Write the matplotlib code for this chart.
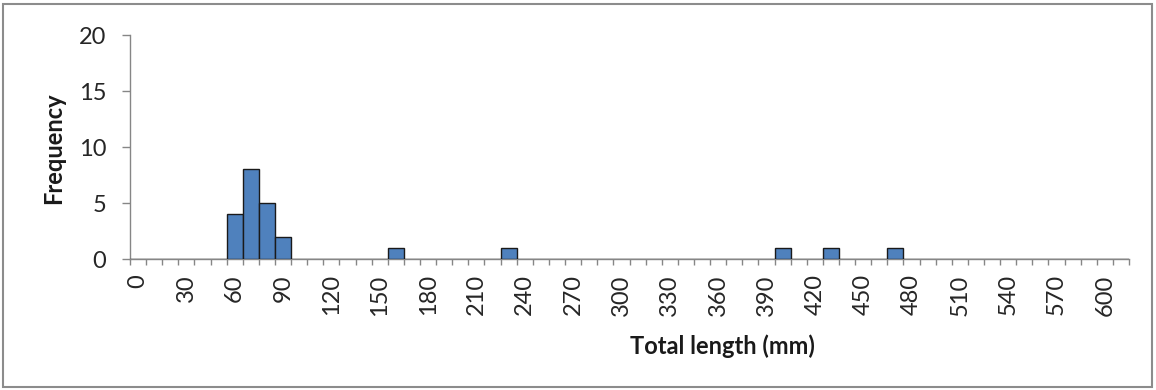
import matplotlib
matplotlib.use("Agg")
import matplotlib.pyplot as plt
from matplotlib.patches import Rectangle
import numpy as np

# Data: histogram of total length (mm), bins of 10 mm from 0 to 600, plus "More"
bin_labels = [str(v) for v in range(0, 601, 10)] + ['More']
counts_by_bin = {'60': 4, '70': 8, '80': 5, '90': 2, '160': 1, '230': 1,
                 '400': 1, '430': 1, '470': 1}
frequencies = [counts_by_bin.get(b, 0) for b in bin_labels]
y_ticks = [0, 5, 10, 15, 20]

plt.rcParams['font.family'] = ['Lato', 'DejaVu Sans']

W, H = 1156, 390
fig = plt.figure(figsize=(W / 100, H / 100), dpi=100)

# outer border
fig.patches.append(Rectangle((3 / W, 3 / H), (W - 7) / W, (H - 7) / H,
                             transform=fig.transFigure, fill=False,
                             edgecolor='#8c8c8c', linewidth=1.5))

left, right, top, bottom = 130, 1129, 35, 259
ax = fig.add_axes([left / W, 1 - bottom / H, (right - left) / W, (bottom - top) / H])

x = np.arange(len(bin_labels))
ax.bar(x, frequencies, width=1.0, color='#4F81BD', edgecolor='#1a1a1a', linewidth=1.0, zorder=3)

ax.set_xlim(-0.5, len(bin_labels) - 0.5)
ax.set_ylim(0, 20)

axis_col = '#868686'
for s in ['top', 'right']:
    ax.spines[s].set_visible(False)
for s in ['left', 'bottom']:
    ax.spines[s].set_color(axis_col)
    ax.spines[s].set_linewidth(1.0)

tick_col = '#262626'
ax.set_yticks(y_ticks)
ax.set_yticklabels([str(v) for v in y_ticks], fontsize=17, color=tick_col)
ax.tick_params(axis='y', direction='out', length=6, width=1, color=axis_col, pad=11)

# x: tick marks at bin edges, labels every 3rd bin
ax.set_xticks(np.arange(len(bin_labels) + 1) - 0.5, minor=True)
lab_idx = x[::3]
ax.set_xticks(lab_idx)
ax.set_xticklabels([bin_labels[i] for i in lab_idx], rotation=90, fontsize=17,
                   color=tick_col, va='top', ha='center')
ax.tick_params(axis='x', which='major', length=0, pad=11)
ax.tick_params(axis='x', which='minor', direction='out', length=4.5, width=1, color=axis_col)

fig.text(54 / W, 1 - 148 / H, 'Frequency', rotation=90, fontsize=17, fontweight='bold',
         ha='center', va='center', color='#1a1a1a')
fig.text(722 / W, 1 - 346 / H, 'Total length (mm)', fontsize=17, fontweight='bold',
         ha='center', va='center', color='#1a1a1a')

fig.savefig('out.png', dpi=100)
